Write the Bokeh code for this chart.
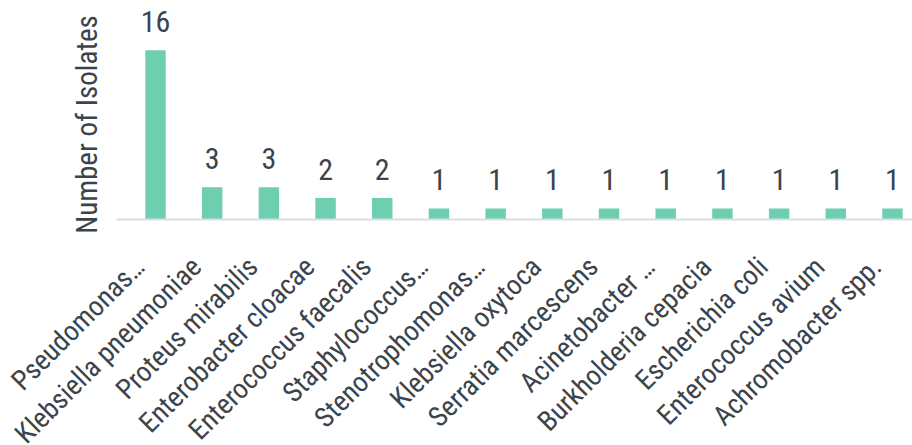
import math
from bokeh.plotting import figure
from bokeh.models import ColumnDataSource, LabelSet, Label, Range1d, FixedTicker
from bokeh.core.properties import value
from bokeh.embed import file_html
from bokeh.resources import INLINE

categories = ["Pseudomonas…", "Klebsiella pneumoniae", "Proteus mirabilis",
              "Enterobacter cloacae", "Enterococcus faecalis", "Staphylococcus…",
              "Stenotrophomonas…", "Klebsiella oxytoca", "Serratia marcescens",
              "Acinetobacter …", "Burkholderia cepacia", "Escherichia coli",
              "Enterococcus avium", "Achromobacter spp."]
counts = [16, 3, 3, 2, 2, 1, 1, 1, 1, 1, 1, 1, 1, 1]
y_title = "Number of Isolates"

FONT = "Roboto Condensed"
TXT = "#3b444c"
BAR = "#6dcfb0"
AXIS = "#d9dee3"

W, H = 912, 445
# layout (pixels)
X_PER = 56.69        # px per category
FIRST_C = 155.0      # px centre of first category
AX_LEFT = 116.0      # px where category axis starts
BASE_Y = 218.5       # px of value 0
Y_PER = 10.55        # px per isolate

x0 = -FIRST_C / X_PER
x1 = x0 + W / X_PER
y1 = BASE_Y / Y_PER
y0 = y1 - H / Y_PER

idx = list(range(len(categories)))
src = ColumnDataSource(dict(x=idx, top=counts, lbl=[str(c) for c in counts],
                            cat=categories, zero=[0] * len(idx)))

p = figure(width=W, height=H, output_backend="svg", toolbar_location=None,
           x_range=Range1d(x0, x1), y_range=Range1d(y0, y1),
           min_border_left=0, min_border_right=0, min_border_top=0,
           min_border_bottom=0)
p.outline_line_color = None
p.xgrid.visible = False
p.ygrid.visible = False
p.yaxis.visible = False

p.vbar(x="x", top="top", width=0.36, bottom=0, source=src,
       fill_color=BAR, line_color=None)

xa = p.xaxis[0]
xa.fixed_location = 0
xa.bounds = (x0 + AX_LEFT / X_PER, x1)
xa.ticker = FixedTicker(ticks=[])
xa.major_tick_line_color = None
xa.minor_tick_line_color = None
xa.axis_line_color = AXIS
xa.axis_line_width = 2

vals = LabelSet(x="x", y="top", text="lbl", source=src, y_offset=18,
                text_align="center", text_baseline="alphabetic",
                text_font=value(FONT), text_font_size="30px", text_color=TXT)
p.add_layout(vals)

cats = LabelSet(x="x", y="zero", text="cat", source=src, x_offset=-16, y_offset=-43,
                angle=math.pi / 4, text_align="right", text_baseline="middle",
                text_font=value(FONT), text_font_size="28px", text_color=TXT)
p.add_layout(cats)

title = Label(x=x0 + 86 / X_PER, y=(BASE_Y - 124) / Y_PER, text=y_title,
              angle=math.pi / 2, text_align="center", text_baseline="alphabetic",
              text_font=FONT, text_font_size="29px", text_color=TXT)
p.add_layout(title)

open("out.html", "w").write(file_html(p, INLINE))
